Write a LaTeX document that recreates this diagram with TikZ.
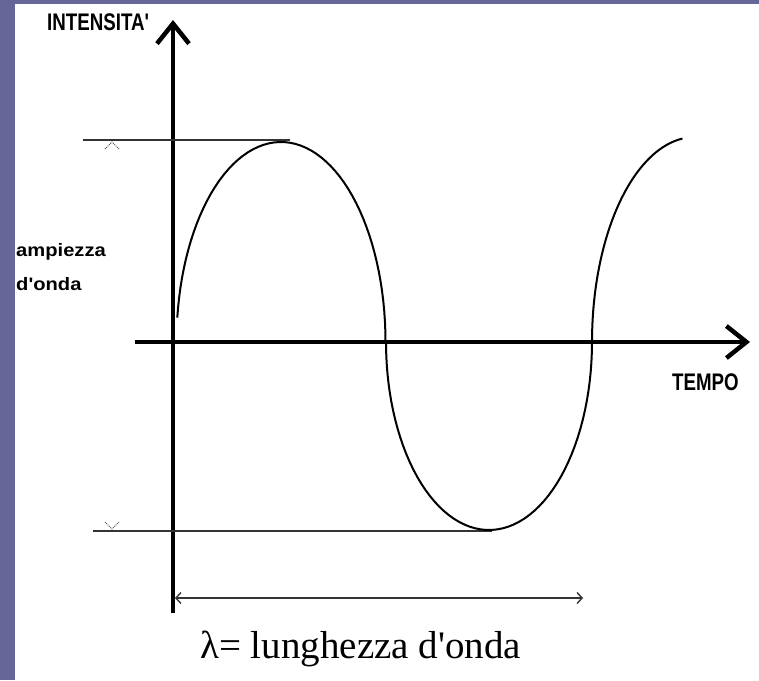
\documentclass[tikz,border=0pt]{standalone}
\usepackage{fontspec}
\setmainfont{Liberation Serif}
\newfontfamily\labelfont{Liberation Sans}
\usetikzlibrary{arrows.meta}
\definecolor{slideborder}{RGB}{102,102,153}
\newcommand{\capslabel}[1]{\scalebox{0.78}[1]{\labelfont\bfseries\fontsize{24}{26}\selectfont #1}}
\newcommand{\sidelabel}[1]{\scalebox{1.12}[1]{\labelfont\bfseries\fontsize{18}{20}\selectfont #1}}

\begin{document}
\begin{tikzpicture}[x=1pt, y=-1pt,
  axis/.style={line width=4.5pt, -{Straight Barb[length=20pt, width=32pt, line width=4.5pt]}},
  guide/.style={line width=1.4pt, black!80},
  tick/.style={line width=0.9pt, black!70, densely dotted},
  wave/.style={line width=2pt, line join=round},
  txt/.style={inner sep=0pt, anchor=base west}]
  % frame of the slide
  \useasboundingbox (0,0) rectangle (759,680);
  \fill[white] (0,0) rectangle (759,680);
  \fill[slideborder] (0,0) rectangle (15,680);
  \fill[slideborder] (0,0) rectangle (759,4);
  % axes
  \coordinate (ybottom) at (173,613);
  \coordinate (ytop) at (173,20);
  \coordinate (xleft) at (135,342);
  \coordinate (xright) at (750,342);
  \draw[axis] (ybottom) -- (ytop);
  \draw[axis] (xleft) -- (xright);
  % amplitude levels
  \coordinate (maxleft) at (83,140);
  \coordinate (maxright) at (290,140);
  \coordinate (minleft) at (93,531);
  \coordinate (minright) at (492,531);
  \draw[guide] (maxleft) -- (maxright);
  \draw[guide] (minleft) -- (minright);
  \draw[tick] (105,149) -- (112,142) -- (119,149);
  \draw[tick] (105,522) -- (112,529) -- (119,522);
  % the wave
  \draw[wave] plot[domain=173:0, variable=\t, samples=60] ({281+104.5*cos(\t)}, {342-200*sin(\t)})
    -- plot[domain=180:360, variable=\t, samples=60] ({489+103*cos(\t)}, {342-188*sin(\t)})
    -- plot[domain=180:97, variable=\t, samples=40] ({695+103*cos(\t)}, {342-205*sin(\t)});
  % wavelength
  \coordinate (lamleft) at (175,598);
  \coordinate (lamright) at (583,598);
  \draw[guide, {Straight Barb[length=5pt, width=11pt]}-{Straight Barb[length=5pt, width=11pt]}] (lamleft) -- (lamright);
  % labels
  \node[txt] (intensita) at (47,30) {\capslabel{INTENSITA'}};
  \node[txt] (tempo) at (672,390) {\capslabel{TEMPO}};
  \node[txt] (ampiezza) at (16,256) {\sidelabel{ampiezza}};
  \node[txt] (donda) at (16,290) {\sidelabel{d'onda}};
  \node[txt] (lambda) at (200,658) {\fontsize{39}{43}\selectfont λ= lunghezza d\textquotesingle onda};
\end{tikzpicture}
\end{document}
